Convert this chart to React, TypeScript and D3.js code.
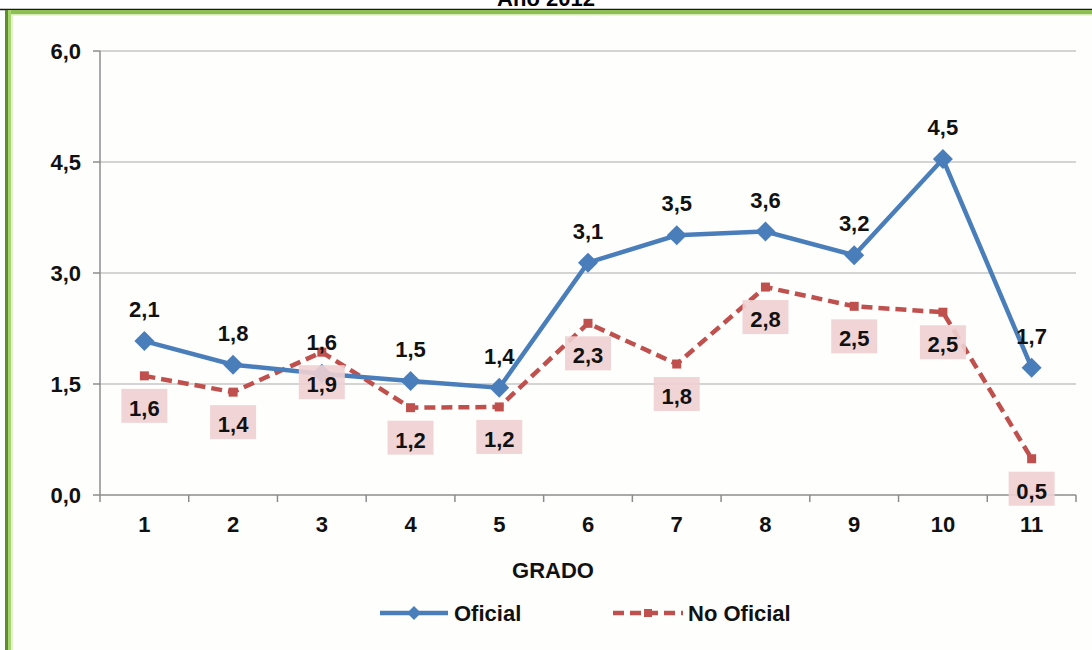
import React from "react";
import * as d3 from "d3";

const grados = ["1", "2", "3", "4", "5", "6", "7", "8", "9", "10", "11"];
const oficial = [2.08, 1.76, 1.64, 1.54, 1.45, 3.14, 3.51, 3.56, 3.24, 4.54, 1.72];
const noOficial = [1.61, 1.39, 1.93, 1.18, 1.19, 2.32, 1.77, 2.81, 2.55, 2.47, 0.49];
const yTicks = [0, 1.5, 3.0, 4.5, 6.0];
const seriesNames = ["Oficial", "No Oficial"];
const title = "Año 2012";
const xTitle = "GRADO";

const W = 1092;
const H = 650;
const FONT = "'Liberation Sans', Arial, sans-serif";
const BLUE = "#4A7EBB";
const RED = "#C0504D";
const PINK = "#EFD0D1";
const TXT = "#111";

const fmt = (v: number) => v.toFixed(1).replace(".", ",");

export default function App() {
  const x = d3.scaleBand<string>().domain(grados).range([100, 1076]).padding(0);
  const y = d3.scaleLinear().domain([0, 6]).range([495, 51]);
  const cx = (i: number) => (x(grados[i]) as number) + x.bandwidth() / 2;

  const line = d3
    .line<number>()
    .x((_, i) => cx(i))
    .y((d) => y(d));

  const diamond = (px: number, py: number, r: number) =>
    `M${px},${py - r}L${px + r},${py}L${px},${py + r}L${px - r},${py}Z`;

  const boundaries = grados.map((g) => x(g) as number).concat([x.range()[1]]);

  return (
    <div style={{ position: "absolute", left: 0, top: 0, width: W, height: H, background: "#fff" }}>
      <svg width={W} height={H} style={{ display: "block" }} fontFamily={FONT}>
        <rect x={0} y={0} width={W} height={H} fill="#ffffff" />
        {/* title, clipped by the frame as in the reference */}
        <text x={546} y={6} textAnchor="middle" fontSize={22} fontWeight="bold" fill="#000">
          {title}
        </text>
        {/* frame */}
        <rect x={5} y={10} width={W} height={H} fill="#fefefd" />
        <line x1={0} x2={W} y1={9.5} y2={9.5} stroke="#1a1a1a" strokeWidth={1.5} />
        <rect x={5} y={10} width={W - 5} height={4} fill="#8DBF55" />
        <rect x={5} y={14} width={W - 5} height={1.5} fill="#d6ebb8" />
        <rect x={5} y={10} width={3} height={H} fill="#5E8F2A" />
        <rect x={8} y={10} width={3} height={H} fill="#a9d46f" />
        <rect x={11} y={15} width={2} height={H} fill="#e3f1cf" />

        {/* gridlines */}
        {yTicks.map((t) => (
          <line key={"g" + t} x1={100} x2={1076} y1={y(t)} y2={y(t)} stroke={t === 0 ? "#8c8c8c" : "#c6c6c6"} strokeWidth={1.5} />
        ))}
        {/* y axis */}
        <line x1={100} x2={100} y1={y(6)} y2={y(0)} stroke="#8c8c8c" strokeWidth={1.5} />
        {yTicks.map((t) => (
          <g key={"yt" + t}>
            <line x1={93} x2={100} y1={y(t)} y2={y(t)} stroke="#8c8c8c" strokeWidth={1.5} />
            <text x={81} y={y(t) + 8} textAnchor="end" fontSize={22} fontWeight="bold" fill={TXT}>
              {fmt(t)}
            </text>
          </g>
        ))}
        {/* x ticks */}
        {boundaries.map((b, i) => (
          <line key={"xt" + i} x1={b} x2={b} y1={y(0)} y2={y(0) + 7} stroke="#8c8c8c" strokeWidth={1.5} />
        ))}
        {grados.map((g, i) => (
          <text key={"xl" + g} x={cx(i)} y={532} textAnchor="middle" fontSize={22} fontWeight="bold" fill={TXT}>
            {g}
          </text>
        ))}
        <text x={553} y={578} textAnchor="middle" fontSize={22} fontWeight="bold" fill={TXT}>
          {xTitle}
        </text>

        {/* No Oficial series */}
        <path d={line(noOficial) as string} fill="none" stroke={RED} strokeWidth={4.5} strokeDasharray="11 6" />
        {noOficial.map((v, i) => (
          <rect key={"rm" + i} x={cx(i) - 4.5} y={y(v) - 4.5} width={9} height={9} fill={RED} />
        ))}
        {/* Oficial series */}
        <path d={line(oficial) as string} fill="none" stroke={BLUE} strokeWidth={4.5} />
        {oficial.map((v, i) => (
          <path key={"bm" + i} d={diamond(cx(i), y(v), 10)} fill={BLUE} />
        ))}

        {/* labels */}
        {noOficial.map((v, i) => (
          <g key={"rl" + i}>
            <rect x={cx(i) - 23} y={y(v) + 13} width={46} height={34} fill={PINK} opacity={0.9} />
            <text x={cx(i)} y={y(v) + 40} textAnchor="middle" fontSize={22} fontWeight="bold" fill={TXT}>
              {fmt(v)}
            </text>
          </g>
        ))}
        {oficial.map((v, i) => (
          <text key={"bl" + i} x={cx(i)} y={y(v) - 24} textAnchor="middle" fontSize={22} fontWeight="bold" fill={TXT}>
            {fmt(v)}
          </text>
        ))}

        {/* legend */}
        <line x1={380} x2={448} y1={613} y2={613} stroke={BLUE} strokeWidth={4.5} />
        <path d={diamond(414, 613, 7)} fill={BLUE} />
        <text x={454} y={621} fontSize={22} fontWeight="bold" fill={TXT}>
          {seriesNames[0]}
        </text>
        <line x1={613} x2={683} y1={613} y2={613} stroke={RED} strokeWidth={4.5} strokeDasharray="11 6" />
        <rect x={644} y={609} width={8} height={8} fill={RED} />
        <text x={688} y={621} fontSize={22} fontWeight="bold" fill={TXT}>
          {seriesNames[1]}
        </text>
      </svg>
    </div>
  );
}
